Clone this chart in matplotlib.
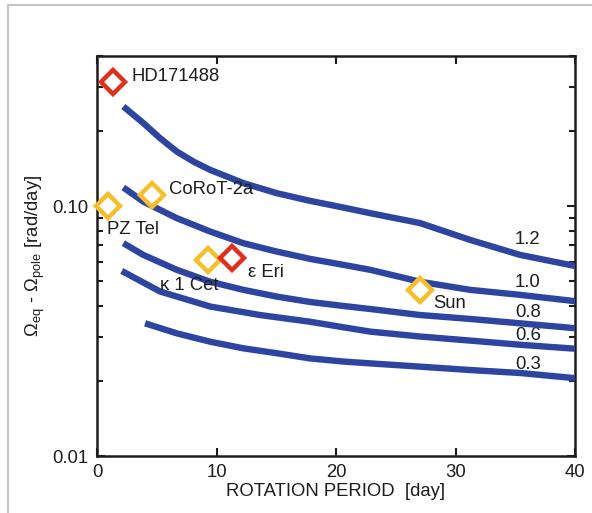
import numpy as np
import matplotlib
matplotlib.use("Agg")
import matplotlib.pyplot as plt
from matplotlib.lines import Line2D

plt.rcParams['font.family'] = ['Liberation Sans', 'DejaVu Sans']
plt.rcParams['mathtext.fontset'] = 'custom'
plt.rcParams['mathtext.rm'] = 'Liberation Sans'
plt.rcParams['mathtext.it'] = 'Liberation Sans:italic'

# differential rotation curves (label -> period [day], delta omega [rad/day])
curve_labels = ["1.2", "1.0", "0.8", "0.6", "0.3"]
p_12 = [2.20, 3.87, 5.27, 6.67, 8.06, 9.46, 12.24, 15.04, 17.82, 20.61, 22.85, 27.03, 31.21, 35.4, 40.0]
v_12 = [0.2512, 0.2156, 0.1876, 0.1658, 0.1512, 0.140, 0.1239, 0.1129, 0.1052, 0.0989,
        0.0939, 0.0857, 0.0734, 0.0639, 0.0577]
p_10 = [2.20, 3.87, 6.67, 9.46, 12.24, 15.04, 17.82, 20.61, 22.85, 27.03, 31.21, 35.4, 40.0]
v_10 = [0.1190, 0.1045, 0.0897, 0.0793, 0.0712, 0.0659, 0.0616, 0.0583, 0.0557, 0.0499,
        0.0463, 0.0442, 0.0417]
p_08 = [2.20, 3.87, 6.67, 9.46, 12.24, 15.04, 17.82, 20.61, 22.85, 27.03, 31.21, 35.4, 40.0]
v_08 = [0.0712, 0.0639, 0.0557, 0.0499, 0.0463, 0.0435, 0.0414, 0.0399, 0.0388, 0.0367,
        0.0354, 0.034, 0.0325]
p_06 = [2.07, 5.27, 9.46, 13.64, 17.82, 20.75, 22.85, 27.03, 31.21, 35.4, 40.0]
v_06 = [0.0551, 0.0456, 0.0397, 0.0367, 0.0345, 0.0327, 0.0315, 0.0301, 0.029, 0.0279, 0.0269]
p_03 = [4.02, 6.67, 9.46, 12.24, 15.04, 17.82, 20.61, 22.85, 27.03, 31.21, 35.4, 40.0]
v_03 = [0.034, 0.031, 0.0287, 0.027, 0.0258, 0.0246, 0.0239, 0.0235, 0.0228, 0.0221,
        0.0215, 0.0205]

# observed stars
star_names = ["HD171488", "PZ Tel", "CoRoT-2a", "κ 1 Cet", "ε Eri", "Sun"]
star_period = [1.34, 0.92, 4.6, 9.29, 11.3, 27.03]
star_domega = [0.316, 0.1005, 0.111, 0.0611, 0.0622, 0.0462]
star_red = [True, False, False, False, True, False]

BLUE = '#2d45a0'
RED = '#e0301c'
YELLOW = '#f6be2a'
TXT = '#1e1c1c'
FS = 13.3

fig = plt.figure(figsize=(5.92, 5.13), dpi=100)
ax = fig.add_axes([0.1639, 0.1111, 0.8074, 0.7797])

curves = [(p_12, v_12), (p_10, v_10), (p_08, v_08), (p_06, v_06), (p_03, v_03)]
for p, v in curves:
    ax.plot(p, v, color=BLUE, lw=4.6, solid_capstyle='butt', solid_joinstyle='round', zorder=3)

# curve labels
lab_y = [0.0734, 0.0497, 0.0374, 0.0305, 0.0232]
for lab, y in zip(curve_labels, lab_y):
    ax.text(34.98, y, lab, fontsize=FS, color=TXT, ha='left', va='center', zorder=2)

for x, y, red in zip(star_period, star_domega, star_red):
    ax.plot(x, y, marker='D', ms=12, mfc='white', mew=3.2,
            mec=RED if red else YELLOW, zorder=4, clip_on=False)

# star labels
star_tx = [2.88, 0.85, 6.05, 5.27, 12.63, 28.14]
star_ty = [0.330, 0.0805, 0.1164, 0.0484, 0.0543, 0.0408]
for name, x, y in zip(star_names, star_tx, star_ty):
    ax.text(x, y, name, fontsize=FS, color=TXT, ha='left', va='center', zorder=5)

ax.set_yscale('log')
ax.set_xlim(0, 40)
ax.set_ylim(0.01, 0.4)
ax.set_xticks([0, 10, 20, 30, 40])
ax.set_yticks([0.01, 0.1])
ax.set_yticklabels(['0.01', '0.10'])
ax.tick_params(which='both', direction='in', top=True, right=True, width=1.5,
               labelsize=FS, labelcolor=TXT, color=TXT)
ax.tick_params(which='major', length=6, pad=6)
ax.tick_params(which='minor', length=4)
ax.yaxis.set_minor_formatter(matplotlib.ticker.NullFormatter())
for s in ax.spines.values():
    s.set_linewidth(1.8)
    s.set_color(TXT)

ax.set_xlabel('ROTATION PERIOD  [day]', fontsize=FS, color=TXT, labelpad=1)
ax.set_ylabel(r'$\Omega_{\rm eq}$ - $\Omega_{\rm pole}$ [rad/day]', fontsize=FS,
              color=TXT, labelpad=4)

# grey frame around the figure
fig.add_artist(Line2D([8 / 592, 8 / 592], [0, 1 - 5 / 513], transform=fig.transFigure,
                      color='#c4c4c4', lw=1.5))
fig.add_artist(Line2D([8 / 592, 1], [1 - 5 / 513, 1 - 5 / 513], transform=fig.transFigure,
                      color='#c4c4c4', lw=1.5))

fig.savefig('out.png', dpi=100)
